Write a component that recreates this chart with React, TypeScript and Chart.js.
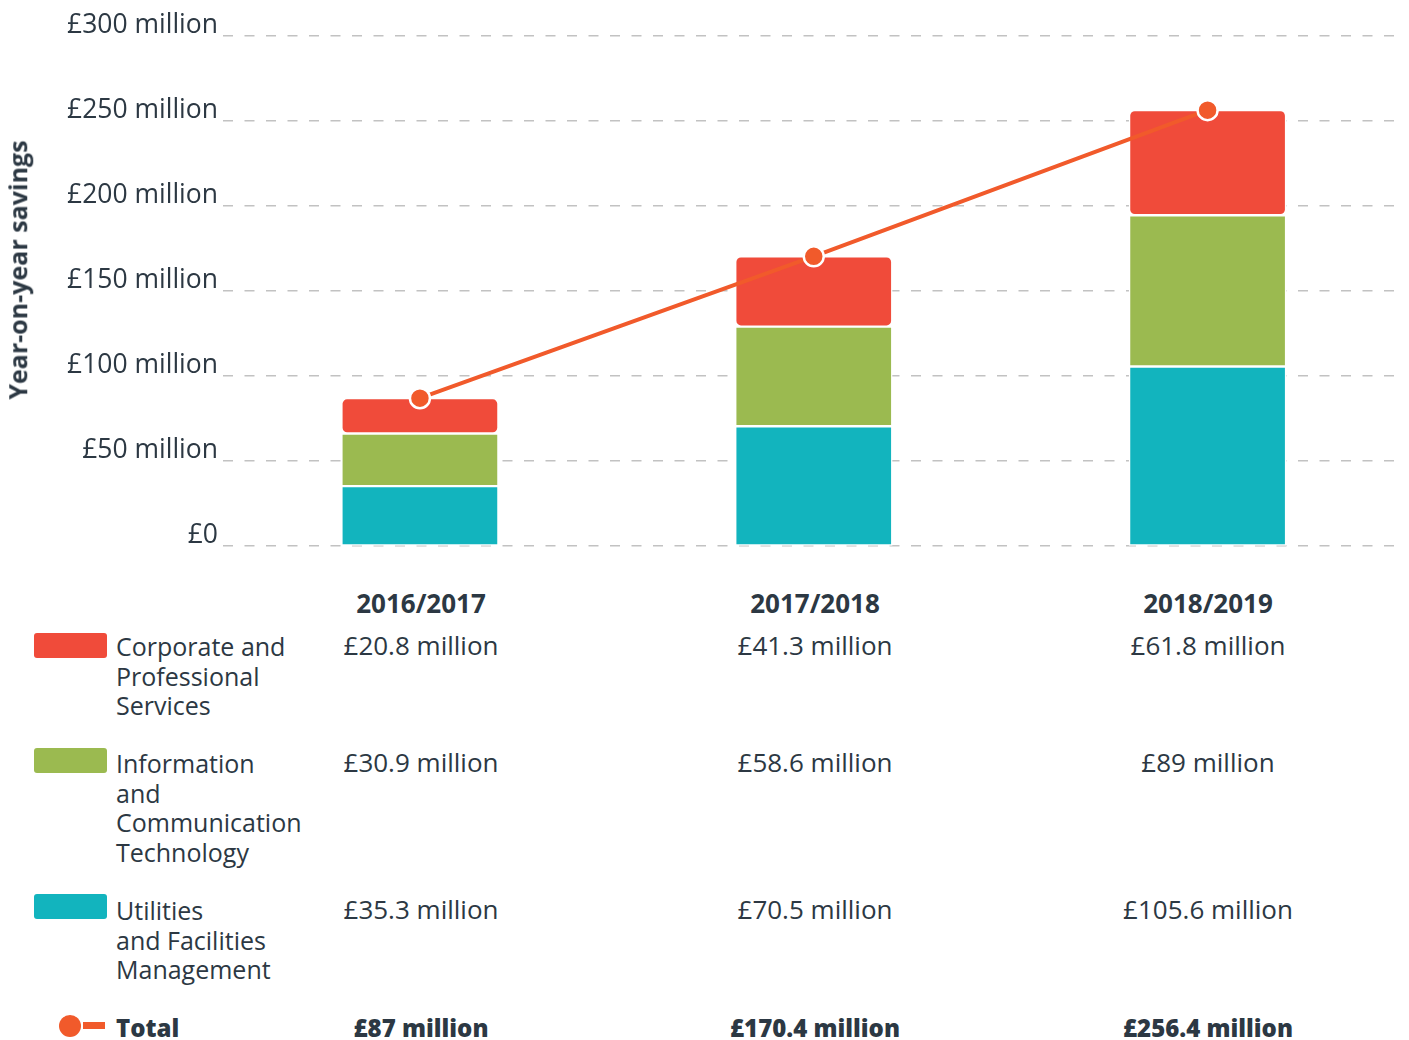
import React, { useEffect, useRef } from "react";
import { Chart, registerables } from "chart.js";

Chart.register(...registerables);

const years = ["2016/2017", "2017/2018", "2018/2019"];
const utilities = [35.3, 70.5, 105.6];
const ict = [30.9, 58.6, 89];
const corporate = [20.8, 41.3, 61.8];
const totals = [87, 170.4, 256.4];

const corporateLabels = ["£20.8 million", "£41.3 million", "£61.8 million"];
const ictLabels = ["£30.9 million", "£58.6 million", "£89 million"];
const utilitiesLabels = ["£35.3 million", "£70.5 million", "£105.6 million"];
const totalLabels = ["£87 million", "£170.4 million", "£256.4 million"];

const yTickValues = [0, 50, 100, 150, 200, 250, 300];
const yTickLabels = ["£0", "£50 million", "£100 million", "£150 million", "£200 million", "£250 million", "£300 million"];

const RED = "#f04b3a";
const GREEN = "#9bba50";
const TEAL = "#12b4be";
const ORANGE = "#f15a2b";
const TEXT = "#2c3843";
const FONT = "'Open Sans', 'DejaVu Sans', sans-serif";

const colCenters = [421, 815, 1208];

export default function App() {
  const ref = useRef<HTMLCanvasElement>(null);

  useEffect(() => {
    if (!ref.current) return;
    const barStyle = {
      borderColor: "#ffffff",
      borderWidth: 1.5,
      borderRadius: 6,
      borderSkipped: false,
      stack: "bars",
      order: 1,
    };
    const chart = new Chart(ref.current, {
      type: "bar",
      data: {
        labels: years,
        datasets: [
          {
            type: "line",
            label: "Total",
            data: totals,
            borderColor: ORANGE,
            borderWidth: 4,
            pointRadius: 10,
            pointBackgroundColor: ORANGE,
            pointBorderColor: "#ffffff",
            pointBorderWidth: 2.5,
            stack: "line",
            order: 0,
          } as any,
          { label: "Utilities and Facilities Management", data: utilities, backgroundColor: TEAL, ...barStyle } as any,
          { label: "Information and Communication Technology", data: ict, backgroundColor: GREEN, ...barStyle } as any,
          { label: "Corporate and Professional Services", data: corporate, backgroundColor: RED, ...barStyle } as any,
        ],
      },
      options: {
        responsive: false,
        animation: false,
        devicePixelRatio: 1,
        layout: { padding: { top: 36, right: 0, bottom: 2, left: 0 } },
        plugins: { legend: { display: false }, tooltip: { enabled: false } },
        datasets: { bar: { barThickness: 157 } },
        scales: {
          x: {
            display: false,
            stacked: true,
          },
          y: {
            stacked: true,
            min: 0,
            max: 300,
            afterBuildTicks: (scale: any) => {
              scale.ticks = yTickValues.map((v) => ({ value: v }));
            },
            afterFit: (scale: any) => {
              scale.width = 223;
            },
            border: { display: false, dash: [10, 11.5] },
            grid: {
              color: "#c2c2c2",
              lineWidth: 1.5,
              drawTicks: false,
            },
            ticks: {
              padding: 5,
              labelOffset: -11,
              color: TEXT,
              font: { family: FONT, size: 26.5 },
              callback: (v: any) => yTickLabels[yTickValues.indexOf(Number(v))],
            },
          },
        },
      },
    });
    return () => chart.destroy();
  }, []);

  const txt: React.CSSProperties = {
    position: "absolute",
    fontFamily: FONT,
    fontSize: 25,
    lineHeight: "29.5px",
    color: TEXT,
    whiteSpace: "nowrap",
  };
  const swatch = (top: number, color: string): React.CSSProperties => ({
    position: "absolute",
    left: 34,
    top,
    width: 73,
    height: 25,
    borderRadius: 3,
    background: color,
  });
  const col = (i: number, top: number, bold?: number, size?: number): React.CSSProperties => ({
    ...txt,
    left: colCenters[i],
    top,
    transform: "translateX(-50%)",
    fontWeight: bold || 400,
    fontSize: size || 26,
  });

  return (
    <div style={{ position: "absolute", left: 0, top: 0, width: 1409, height: 1040, background: "#fff", overflow: "hidden" }}>
      <canvas ref={ref} width={1417} height={567} style={{ position: "absolute", left: 0, top: 0, width: 1417, height: 567 }} />
      <div
        style={{
          ...txt,
          fontWeight: 700,
          fontSize: 25,
          left: 18,
          top: 270,
          transform: "translate(-50%, -50%) rotate(-90deg)",
        }}
      >
        Year-on-year savings
      </div>

      {years.map((y, i) => (
        <div key={"h" + i} style={col(i, 589, 700, 26)}>{y}</div>
      ))}

      <div style={swatch(633, RED)} />
      <div style={{ ...txt, left: 116, top: 632 }}>Corporate and<br />Professional<br />Services</div>
      {corporateLabels.map((s, i) => (
        <div key={"c" + i} style={col(i, 631)}>{s}</div>
      ))}

      <div style={swatch(748, GREEN)} />
      <div style={{ ...txt, left: 116, top: 749 }}>Information<br />and<br />Communication<br />Technology</div>
      {ictLabels.map((s, i) => (
        <div key={"i" + i} style={col(i, 748)}>{s}</div>
      ))}

      <div style={swatch(894, TEAL)} />
      <div style={{ ...txt, left: 116, top: 896 }}>Utilities<br />and Facilities<br />Management</div>
      {utilitiesLabels.map((s, i) => (
        <div key={"u" + i} style={col(i, 895)}>{s}</div>
      ))}

      <div style={{ position: "absolute", left: 59, top: 1015, width: 22, height: 22, borderRadius: "50%", background: ORANGE }} />
      <div style={{ position: "absolute", left: 83, top: 1022, width: 22, height: 7, background: ORANGE }} />
      <div style={{ ...txt, left: 116, top: 1013, fontWeight: 800, fontSize: 24 }}>Total</div>
      {totalLabels.map((s, i) => (
        <div key={"t" + i} style={col(i, 1013, 800, 24)}>{s}</div>
      ))}
    </div>
  );
}
